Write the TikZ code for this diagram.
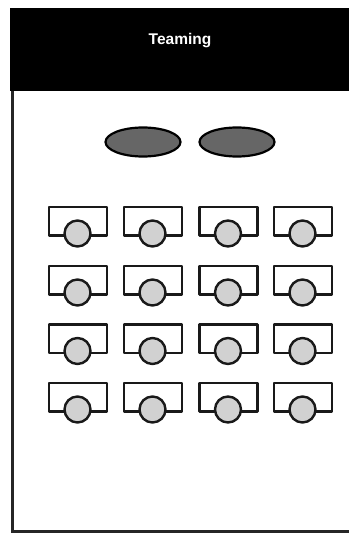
\documentclass[tikz,border=0pt]{standalone}
\usepackage{fontspec}
\setmainfont{Liberation Sans}
\definecolor{headblack}{gray}{0.0}
\definecolor{tablegray}{gray}{0.40}
\definecolor{seatgray}{gray}{0.82}
\tikzset{
  header/.style={fill=headblack,draw=none},
  frameline/.style={draw=black!85,line width=2.4pt},
  table/.style={draw=black,line width=2.2pt,fill=tablegray},
  desk/.style={draw=black!90,line width=2.2pt,fill=white,line join=round},
  seat/.style={draw=black!90,line width=2.4pt,fill=seatgray},
  title/.style={text=white,font=\bfseries\fontsize{15.5}{18}\selectfont}
}
\begin{document}
\begin{tikzpicture}[x=1pt,y=-1pt]
\useasboundingbox (0,0) rectangle (349,533);
\fill[white] (0,0) rectangle (349,533);
\fill[header] (10,8) rectangle (349,91);
\draw[frameline] (12.5,91) -- (12.5,531.5) -- (349,531.5);
\node[title] (head) at (180,41) {Teaming};
\draw[table] (143,142) ellipse [x radius=37.5,y radius=14.5];
\draw[table] (237,142) ellipse [x radius=37.5,y radius=14.5];
\foreach \r/\y in {1/207,2/266,3/324.5,4/383}{
  \foreach \c/\x in {1/49,2/124,3/199.5,4/274}{
    \draw[desk] (\x,\y) rectangle ++(58,28.5);
    \draw[seat] (\x+28.5,\y+26.5) circle [radius=13];
  }
}
\end{tikzpicture}
\end{document}
